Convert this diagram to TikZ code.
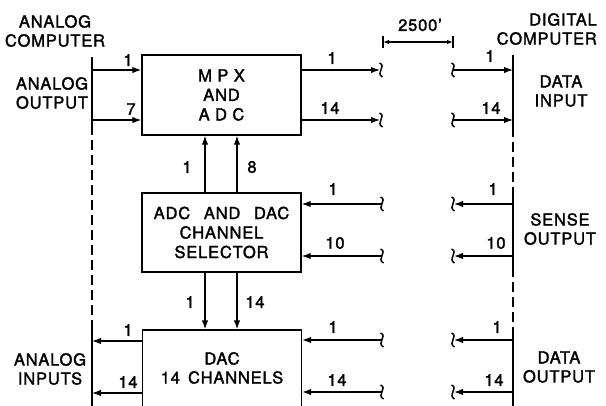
\documentclass[tikz,border=0pt]{standalone}
\usepackage{fontspec}
\setmainfont{TeX Gyre Heros}[LetterSpace=5,FakeBold=1.8]
\usetikzlibrary{arrows.meta}
\begin{document}
\begin{tikzpicture}[x=1pt,y=-1pt,
  lbl/.style={font=\fontsize{16.5}{19}\selectfont, inner sep=0pt, align=center},
  box/.style={draw, line width=1.4pt, inner sep=0pt, minimum width=159pt, font=\fontsize{16.5}{19.5}\selectfont, align=center},
  arr/.style={line width=1.3pt, -{Latex[length=9pt,width=6.5pt]}},
  dim/.style={line width=1.1pt, {Latex[length=6pt,width=4.5pt]}-{Latex[length=6pt,width=4.5pt]}},
  wire/.style={line width=1.2pt},
  bus/.style={line width=1.9pt},
  buslink/.style={line width=1.9pt, dash pattern=on 10pt off 5pt},
  squig/.style={line width=1.5pt},
  sq/.pic={\draw[squig] (-1.5,-7) .. controls (6,-4) and (-6,3) .. (1.5,7);}]
\clip (0,0) rectangle (606,405);
\fill[white] (0,0) rectangle (606,405);

% computer interface lines
\coordinate (L0) at (92,57);  \coordinate (L1) at (92,125);
\coordinate (L2) at (92,330); \coordinate (L3) at (92,410);
\draw[bus] (L0) -- (L1); \draw[buslink] (L1) -- (L2); \draw[bus] (L2) -- (L3);
\coordinate (R0) at (513,55);  \coordinate (R1) at (513,127);
\coordinate (R2) at (513,192); \coordinate (R3) at (513,267);
\coordinate (R4) at (513,333); \coordinate (R5) at (513,410);
\draw[bus] (R0) -- (R1); \draw[buslink] (R1) -- (R2); \draw[bus] (R2) -- (R3);
\draw[buslink] (R3) -- (R4); \draw[bus] (R4) -- (R5);

% boxes
\node[box, minimum height=80pt] (mpx) at (221.5,95) {M P X\\AND\\A D C};
\node[box, minimum height=79pt] (sel) at (221.5,232.5) {ADC\hspace{0.5em} AND\hspace{0.5em} DAC\\CHANNEL\\SELECTOR};
\node[box, minimum height=100pt] (dac) at (222,380) {};
\node[lbl] (dact) at (222,368) {DAC\\14 \,CHANNELS};

% texts
\node[lbl] (ac) at (55,31) {ANALOG\\COMPUTER};
\node[lbl] (ao) at (52,93) {ANALOG\\OUTPUT};
\node[lbl, align=right, anchor=east] (dc) at (597,29) {DIGITAL\\COMPUTER};
\node[lbl] (di) at (561,91) {DATA\\INPUT};
\node[lbl] (so) at (560,229) {SENSE\\OUTPUT};
\node[lbl] (dout) at (559,367) {DATA\\OUTPUT};
\node[lbl] (ai) at (50,369) {ANALOG\\INPUTS};

% 2500' dimension
\coordinate (d1) at (383,42); \coordinate (d2) at (453,42);
\draw[wire] ([yshift=-6pt]d1) -- ([yshift=6pt]d1);
\draw[wire] ([yshift=-6pt]d2) -- ([yshift=6pt]d2);
\draw[dim] (d1) -- (d2);
\node[lbl] (dist) at (420,25) {2500\char"0027};

% MPX inputs
\coordinate (a1) at (92,70); \coordinate (a2) at (92,120);
\draw[arr] (a1) -- (a1 -| mpx.west);
\draw[arr] (a2) -- (a2 -| mpx.west);
\node[lbl] at (128,60) {1};
\node[lbl] at (131,109) {7};

% MPX outputs to line
\coordinate (m1) at (381,70); \coordinate (m2) at (381,120);
\draw[arr, shorten >=1pt] (m1 -| mpx.east) -- (m1);
\draw[arr, shorten >=1pt] (m2 -| mpx.east) -- (m2);
\pic at (m1) {sq}; \pic at (m2) {sq};
\node[lbl] at (332,58) {1};
\node[lbl] at (330,108) {14};
\coordinate (n1) at (453,70); \coordinate (n2) at (453,120);
\pic at (n1) {sq}; \pic at (n2) {sq};
\draw[arr] (n1) -- (n1 -| R0);
\draw[arr] (n2) -- (n2 -| R0);
\node[lbl] at (490,56) {1};
\node[lbl] at (491,108) {14};

% MPX <- selector
\draw[arr] (sel.north -| 205,0) -- (mpx.south -| 205,0);
\draw[arr] (sel.north -| 237,0) -- (mpx.south -| 237,0);
\node[lbl] at (187,167) {1};
\node[lbl] at (252,167) {8};

% selector inputs
\coordinate (s1) at (382,204); \coordinate (s2) at (382,256);
\pic at (s1) {sq}; \pic at (s2) {sq};
\draw[arr] (s1) -- (s1 -| sel.east);
\draw[arr] (s2) -- (s2 -| sel.east);
\node[lbl] at (333,189) {1};
\node[lbl] at (335,243) {10};
\coordinate (t1) at (453,204); \coordinate (t2) at (453,256);
\pic at (t1) {sq}; \pic at (t2) {sq};
\draw[arr, shorten >=1pt] (t1 -| R0) -- (t1);
\draw[arr, shorten >=1pt] (t2 -| R0) -- (t2);
\node[lbl] at (493,189) {1};
\node[lbl] at (496,243) {10};

% selector -> DAC
\draw[arr] (sel.south -| 205,0) -- (dac.north -| 205,0);
\draw[arr] (sel.south -| 237,0) -- (dac.north -| 237,0);
\node[lbl] at (190,302) {1};
\node[lbl] at (255,302) {14};

% DAC outputs to analog
\coordinate (o1) at (92,341); \coordinate (o2) at (92,393);
\draw[arr] (o1 -| dac.west) -- (o1);
\draw[arr] (o2 -| dac.west) -- (o2);
\node[lbl] at (128,330) {1};
\node[lbl] at (128,382) {14};

% DAC inputs
\coordinate (u1) at (382,340); \coordinate (u2) at (382,392);
\pic at (u1) {sq}; \pic at (u2) {sq};
\draw[arr] (u1) -- (u1 -| dac.east);
\draw[arr] (u2) -- (u2 -| dac.east);
\node[lbl] at (333,327) {1};
\node[lbl] at (337,380) {14};
\coordinate (v1) at (453,340); \coordinate (v2) at (453,392);
\pic at (v1) {sq}; \pic at (v2) {sq};
\draw[arr, shorten >=1pt] (v1 -| R0) -- (v1);
\draw[arr, shorten >=1pt] (v2 -| R0) -- (v2);
\node[lbl] at (497,327) {1};
\node[lbl] at (494,380) {14};
\end{tikzpicture}
\end{document}
